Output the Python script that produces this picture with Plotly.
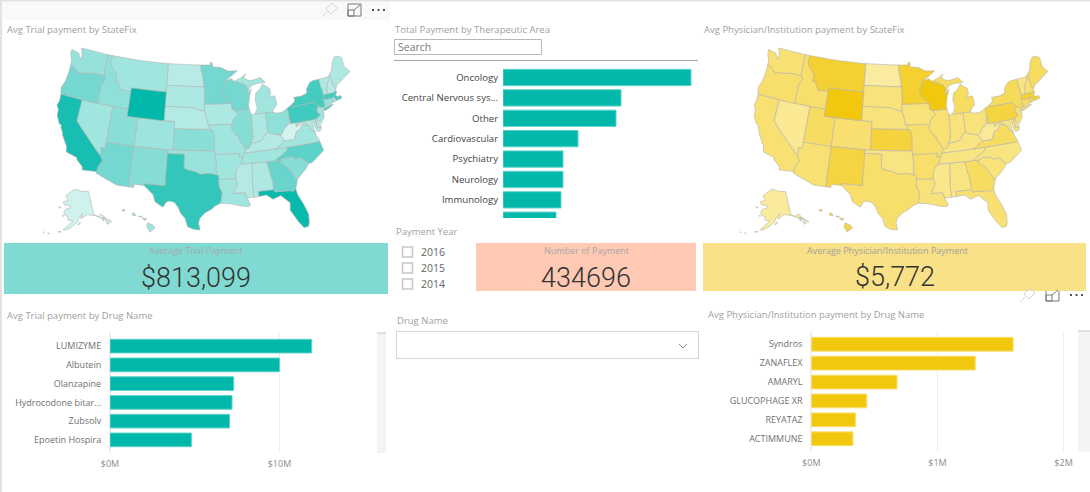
import math
import plotly.graph_objects as go

W, H = 1090, 492
TEAL, YELLOW = "#01B8AA", "#F2C80F"

# ---------- data ----------
states = ["AL","AK","AZ","AR","CA","CO","CT","DC","DE","FL","GA","HI","ID","IL","IN","IA","KS","KY","LA","ME","MD","MA","MI","MN","MS","MO","MT","NE","NV","NH","NJ","NM","NY","NC","ND","OH","OK","OR","PA","RI","SC","SD","TN","TX","UT","VT","VA","WA","WV","WI","WY"]
trial_index = [.25,.10,.50,.30,.90,.32,.35,.20,.20,.97,.55,.30,.38,.42,.25,.25,.40,.22,.30,.25,.25,.70,.30,.50,.22,.30,.30,.22,.30,.20,.30,.42,.70,.60,.20,.38,.33,.50,.72,.30,.42,.25,.30,.78,.40,.25,.30,.35,.08,.50,1.0]
phys_index = [.30,.15,.40,.45,.40,.42,.50,.10,.30,.40,.50,.65,.45,.40,.35,.35,.72,.30,.35,.50,.30,.80,.50,.80,.25,.45,.78,.35,.20,.40,.45,.70,.55,.30,.12,.35,.30,.45,.70,.50,.35,.35,.30,.45,.50,.30,.50,.40,.18,1.0,1.0]

area_names = ["Oncology","Central Nervous sys...","Other","Cardiovascular","Psychiatry","Neurology","Immunology","Pulmonary"]
area_totals = [188,118,113,75,60,60,58,53]

trial_drugs = ["LUMIZYME","Albutein","Olanzapine","Hydrocodone bitar...","Zubsolv","Epoetin Hospira"]
trial_drug_pay = [11.9,10.0,7.3,7.2,7.05,4.8]
phys_drugs = ["Syndros","ZANAFLEX","AMARYL","GLUCOPHAGE XR","REYATAZ","ACTIMMUNE"]
phys_drug_pay = [1.60,1.30,0.68,0.44,0.35,0.33]
years = ["2016","2015","2014"]

# State outlines (lon, lat), simplified: each state is a list of rings
state_rings = {
"WA":[[[-124.7,48.4],[-123.1,48.2],[-122.4,47.4],[-122.3,48.1],[-122.8,49],[-117.03,49],[-117.04,46.42],[-116.92,45.99],[-118.98,46],[-119.6,45.92],[-121.2,45.65],[-122.3,45.55],[-122.8,45.9],[-123.4,46.2],[-124,46.25],[-124.1,46.9],[-124.7,47.9]]],
"OR":[[[-124,46.25],[-123.4,46.2],[-122.8,45.9],[-122.3,45.55],[-121.2,45.65],[-119.6,45.92],[-118.98,46],[-116.92,45.99],[-116.47,45.6],[-116.85,44.9],[-117.2,44.4],[-117.03,44.2],[-117.03,42],[-120,42],[-124.21,42],[-124.55,42.84],[-124.1,43.9],[-123.95,45.2]]],
"CA":[[[-124.21,42],[-120,42],[-120,39],[-114.63,35],[-114.13,34.27],[-114.72,33.4],[-114.72,32.72],[-117.12,32.53],[-117.3,33],[-118.4,33.75],[-118.5,34.03],[-119.2,34.15],[-120.5,34.45],[-120.65,35.15],[-121.9,36.6],[-122,36.95],[-122.5,37.5],[-122.5,37.8],[-123,38],[-123.75,39],[-123.85,39.85],[-124.35,40.4],[-124.1,41]]],
"NV":[[[-120,42],[-117.03,42],[-114.04,42],[-114.04,37],[-114.04,36.2],[-114.74,36.1],[-114.63,35],[-120,39]]],
"ID":[[[-117.03,49],[-116.05,49],[-116.05,48],[-115.7,47.45],[-114.7,46.7],[-114.35,46.65],[-114.5,45.55],[-113.9,45.65],[-113.45,44.95],[-113,44.45],[-111.5,44.55],[-111.05,44.48],[-111.05,42],[-114.04,42],[-117.03,42],[-117.03,44.2],[-117.2,44.4],[-116.85,44.9],[-116.47,45.6],[-116.92,45.99],[-117.04,46.42]]],
"MT":[[[-116.05,49],[-104.05,49],[-104.05,45.94],[-104.05,45],[-111.05,45],[-111.05,44.48],[-111.5,44.55],[-113,44.45],[-113.45,44.95],[-113.9,45.65],[-114.5,45.55],[-114.35,46.65],[-114.7,46.7],[-115.7,47.45],[-116.05,48]]],
"WY":[[[-111.05,45],[-104.05,45],[-104.05,43],[-104.05,41],[-109.05,41],[-111.05,41],[-111.05,42],[-111.05,44.48]]],
"UT":[[[-114.04,42],[-111.05,42],[-111.05,41],[-109.05,41],[-109.05,37],[-114.04,37]]],
"CO":[[[-109.05,41],[-104.05,41],[-102.05,41],[-102.05,40],[-102.05,37],[-103,37],[-109.05,37]]],
"AZ":[[[-114.04,37],[-109.05,37],[-109.05,31.33],[-111.07,31.33],[-114.81,32.5],[-114.72,32.72],[-114.72,33.4],[-114.13,34.27],[-114.63,35],[-114.74,36.1],[-114.04,36.2]]],
"NM":[[[-109.05,37],[-103,37],[-103,36.5],[-103.04,32],[-106.62,32],[-106.53,31.78],[-108.21,31.78],[-108.21,31.33],[-109.05,31.33]]],
"ND":[[[-104.05,49],[-97.23,49],[-97.1,48],[-96.85,47.5],[-96.56,45.94],[-104.05,45.94]]],
"SD":[[[-104.05,45.94],[-96.56,45.94],[-96.45,45.3],[-96.45,43.5],[-96.45,42.5],[-97.9,42.8],[-98.5,43],[-104.05,43],[-104.05,45]]],
"NE":[[[-104.05,43],[-98.5,43],[-97.9,42.8],[-96.45,42.5],[-96.1,41.7],[-95.9,41],[-95.77,40.58],[-95.31,40],[-102.05,40],[-102.05,41],[-104.05,41]]],
"KS":[[[-102.05,40],[-95.31,40],[-94.9,39.8],[-94.61,39.1],[-94.62,37],[-102.05,37]]],
"OK":[[[-103,37],[-94.62,37],[-94.62,36.5],[-94.43,35.4],[-94.48,33.64],[-95.5,33.88],[-97.1,33.75],[-98.1,34.13],[-99.2,34.3],[-100,34.56],[-100,36.5],[-103,36.5]]],
"TX":[[[-106.62,32],[-103.04,32],[-103,36.5],[-100,36.5],[-100,34.56],[-99.2,34.3],[-98.1,34.13],[-97.1,33.75],[-95.5,33.88],[-94.48,33.64],[-94.04,33.55],[-94.04,33],[-94.04,32],[-93.55,31.2],[-93.85,29.7],[-94.7,29.35],[-95.3,28.9],[-96.4,28.35],[-97.2,27.6],[-97.4,26.9],[-97.15,25.96],[-98.2,26.05],[-99.1,26.4],[-99.5,27.5],[-100.3,28.3],[-100.7,29.1],[-101.4,29.77],[-102.3,29.88],[-102.7,29.7],[-103.15,28.98],[-104.5,29.65],[-104.9,30.6],[-106,31.4],[-106.53,31.78]]],
"MN":[[[-97.23,49],[-95.15,49],[-95.15,49.38],[-94.8,49.3],[-94.6,48.7],[-93,48.6],[-91.5,48.05],[-89.6,48],[-92,46.7],[-92.29,46.66],[-92.29,46.08],[-92.9,45.6],[-92.75,44.75],[-91.2,43.5],[-96.45,43.5],[-96.45,45.3],[-96.56,45.94],[-96.85,47.5],[-97.1,48]]],
"IA":[[[-96.45,43.5],[-91.2,43.5],[-91.1,42.7],[-90.65,42.5],[-90.15,41.95],[-91.05,41.2],[-91.42,40.38],[-91.73,40.61],[-95.77,40.58],[-95.9,41],[-96.1,41.7],[-96.45,42.5]]],
"MO":[[[-95.77,40.58],[-91.73,40.61],[-91.42,40.38],[-91.5,40],[-90.7,39],[-90.2,38.8],[-90.2,38.4],[-89.55,37.7],[-89.15,37],[-89.4,36.5],[-89.7,36],[-90.37,36],[-90.15,36.5],[-94.62,36.5],[-94.62,37],[-94.61,39.1],[-94.9,39.8],[-95.31,40]]],
"AR":[[[-94.62,36.5],[-90.15,36.5],[-90.37,36],[-89.7,36],[-90.1,35],[-90.6,34.7],[-91.1,33.9],[-91.17,33],[-94.04,33],[-94.04,33.55],[-94.48,33.64],[-94.43,35.4]]],
"LA":[[[-94.04,33],[-91.17,33],[-90.9,32.3],[-91.6,31],[-89.73,31],[-89.5,30.2],[-89.4,30.05],[-89,29.2],[-89.4,29],[-90.2,29.1],[-91.3,29.3],[-92.2,29.55],[-93.85,29.7],[-93.55,31.2],[-94.04,32]]],
"WI":[[[-92.29,46.66],[-92,46.7],[-90.9,46.95],[-90.4,46.55],[-89.1,46.13],[-88.1,45.9],[-87.8,45.35],[-87.6,45.1],[-88,44.55],[-87.05,45.25],[-87.5,44.4],[-87.9,43],[-87.8,42.49],[-90.65,42.5],[-91.1,42.7],[-91.2,43.5],[-92.75,44.75],[-92.9,45.6],[-92.29,46.08]]],
"IL":[[[-90.65,42.5],[-87.8,42.49],[-87.53,41.72],[-87.53,39.35],[-87.65,38.5],[-88.05,37.8],[-88.1,37.5],[-88.5,37.1],[-89.15,37],[-89.55,37.7],[-90.2,38.4],[-90.2,38.8],[-90.7,39],[-91.5,40],[-91.42,40.38],[-91.05,41.2],[-90.15,41.95]]],
"IN":[[[-87.53,41.72],[-87.2,41.75],[-86.8,41.76],[-84.8,41.76],[-84.82,39.1],[-85.4,38.7],[-86,38],[-86.5,37.95],[-87.1,37.8],[-88.05,37.8],[-87.65,38.5],[-87.53,39.35]]],
"OH":[[[-84.8,41.76],[-83.45,41.73],[-82.7,41.5],[-81.7,41.5],[-80.52,41.98],[-80.52,40.64],[-80.85,39.7],[-81.75,39.2],[-82.2,38.6],[-82.6,38.42],[-83.3,38.6],[-84.2,38.8],[-84.82,39.1]]],
"MI":[[[-86.8,41.76],[-84.8,41.76],[-83.45,41.73],[-83.1,42.2],[-82.5,42.6],[-82.45,43],[-82.6,43.9],[-83.4,43.95],[-83.9,43.7],[-83.3,44.3],[-83.4,45.05],[-84.7,45.75],[-85.5,45],[-86.2,44.7],[-86.5,43.7],[-86.25,42.6]],
      [[-90.4,46.55],[-89.1,46.13],[-88.1,45.9],[-87.8,45.35],[-87.6,45.1],[-87,45.75],[-85.6,46],[-84.7,45.95],[-84.1,46],[-84.6,46.45],[-85,46.75],[-86.5,46.5],[-87.4,46.5],[-88.4,46.95],[-87.9,47.47],[-88.9,47]]],
"KY":[[[-89.4,36.5],[-89.15,37],[-88.5,37.1],[-88.1,37.5],[-88.05,37.8],[-87.1,37.8],[-86.5,37.95],[-86,38],[-85.4,38.7],[-84.82,39.1],[-84.2,38.8],[-83.3,38.6],[-82.6,38.42],[-81.97,37.54],[-83.68,36.6],[-88.07,36.5]]],
"TN":[[[-90.1,35],[-89.7,36],[-89.4,36.5],[-88.07,36.5],[-83.68,36.6],[-81.68,36.59],[-82,36.1],[-84.32,35],[-85.6,35],[-88.2,35]]],
"MS":[[[-90.1,35],[-88.2,35],[-88.47,31.9],[-88.4,30.25],[-89.5,30.2],[-89.73,31],[-91.6,31],[-90.9,32.3],[-91.17,33],[-91.1,33.9],[-90.6,34.7]]],
"AL":[[[-88.2,35],[-85.6,35],[-85.18,32.87],[-85,32.3],[-85.05,31],[-87.6,31],[-87.5,30.3],[-88,30.25],[-88.4,30.25],[-88.47,31.9]]],
"GA":[[[-85.6,35],[-84.32,35],[-83.1,35],[-83.35,34.7],[-82.75,34.3],[-81.9,33.5],[-81.1,32.1],[-80.85,32.03],[-81.4,30.7],[-82.05,30.36],[-82.2,30.57],[-84.86,30.7],[-85.05,31],[-85,32.3],[-85.18,32.87]]],
"FL":[[[-87.6,31],[-85.05,31],[-84.86,30.7],[-82.2,30.57],[-82.05,30.36],[-81.4,30.7],[-81.25,29.8],[-80.55,28.4],[-80.05,26.9],[-80.15,25.75],[-80.4,25.2],[-81.1,25.15],[-81.8,26.1],[-82.2,26.9],[-82.8,27.85],[-82.65,28.9],[-83.4,29.5],[-84,30.1],[-85.3,29.7],[-86.3,30.4],[-87.5,30.3]]],
"SC":[[[-83.1,35],[-82.35,35.2],[-81.05,35.15],[-80.8,34.82],[-79.67,34.8],[-78.55,33.86],[-79.2,33.2],[-80.85,32.03],[-81.1,32.1],[-81.9,33.5],[-82.75,34.3],[-83.35,34.7]]],
"NC":[[[-84.32,35],[-83.1,35],[-82.35,35.2],[-81.05,35.15],[-80.8,34.82],[-79.67,34.8],[-78.55,33.86],[-77.95,33.9],[-76.5,34.7],[-75.55,35.25],[-75.87,36.55],[-81.68,36.59],[-82,36.1]]],
"VA":[[[-83.68,36.6],[-81.68,36.59],[-75.87,36.55],[-76,37],[-76.3,37.5],[-76.3,38],[-77.05,38.4],[-77.05,38.85],[-77.5,39.1],[-77.72,39.32],[-77.83,39.13],[-78.35,39.4],[-78.87,38.76],[-79.65,38.55],[-80.3,37.5],[-81.97,37.54]]],
"WV":[[[-82.6,38.42],[-82.2,38.6],[-81.75,39.2],[-80.85,39.7],[-80.52,40.64],[-80.52,39.72],[-79.48,39.72],[-79.48,39.2],[-78.4,39.62],[-77.72,39.32],[-77.83,39.13],[-78.35,39.4],[-78.87,38.76],[-79.65,38.55],[-80.3,37.5],[-81.97,37.54]]],
"MD":[[[-79.48,39.72],[-75.79,39.72],[-75.7,38.46],[-75.05,38.45],[-75.25,38.03],[-75.9,37.95],[-76.2,38.8],[-76.05,39.4],[-76.45,39.1],[-76.45,38.4],[-76.3,38],[-77.05,38.4],[-77.05,38.85],[-77.5,39.1],[-77.72,39.32],[-78.4,39.62],[-79.48,39.2]]],
"DC":[[[-77.12,38.93],[-77.04,39],[-76.91,38.89],[-77.04,38.79]]],
"DE":[[[-75.79,39.72],[-75.42,39.8],[-75.55,39.45],[-75.1,38.8],[-75.05,38.45],[-75.7,38.46]]],
"PA":[[[-80.52,41.98],[-79.76,42.27],[-79.76,42],[-75.35,42],[-74.7,41.36],[-75.13,40.97],[-75.2,40.65],[-74.72,40.15],[-75.42,39.8],[-75.79,39.72],[-79.48,39.72],[-80.52,39.72],[-80.52,40.64]]],
"NY":[[[-79.76,42.27],[-79,42.7],[-78.9,43],[-79.05,43.27],[-77.5,43.25],[-76.3,43.5],[-76.2,44.1],[-75.3,44.85],[-74.7,45],[-73.35,45],[-73.4,44],[-73.25,43.6],[-73.27,42.75],[-73.5,42.05],[-73.49,41.2],[-73.65,41],[-73.9,41],[-74.7,41.36],[-75.35,42],[-79.76,42]],
      [[-74.03,40.6],[-73.75,40.87],[-72.3,41.15],[-71.87,41.07],[-73.5,40.58]]],
"NJ":[[[-75.13,40.97],[-74.7,41.36],[-73.9,41],[-74.25,40.5],[-74,40.45],[-74.1,39.75],[-74.9,38.93],[-75.5,39.5],[-75.42,39.8],[-74.72,40.15],[-75.2,40.65]]],
"CT":[[[-73.5,42.05],[-71.8,42.02],[-71.8,41.4],[-73.65,41],[-73.49,41.2]]],
"RI":[[[-71.8,42.02],[-71.38,42.02],[-71.15,41.5],[-71.8,41.4]]],
"MA":[[[-73.5,42.05],[-73.27,42.75],[-72.45,42.73],[-71.3,42.7],[-70.85,42.87],[-70.6,42.65],[-71.05,42.3],[-70.6,41.95],[-70.2,42.07],[-69.95,41.8],[-69.97,41.65],[-70.65,41.55],[-71.15,41.5],[-71.38,42.02],[-71.8,42.02]]],
"VT":[[[-73.35,45],[-71.5,45],[-71.5,44.6],[-72.05,44.1],[-72.45,43.2],[-72.45,42.73],[-73.27,42.75],[-73.25,43.6],[-73.4,44]]],
"NH":[[[-71.5,45],[-71.08,45.3],[-70.98,43.4],[-70.7,43.07],[-70.85,42.87],[-71.3,42.7],[-72.45,42.73],[-72.45,43.2],[-72.05,44.1],[-71.5,44.6]]],
"ME":[[[-71.08,45.3],[-70.4,45.8],[-70,46.7],[-69.2,47.45],[-68.3,47.35],[-67.8,47.07],[-67.8,45.7],[-67,44.85],[-68.5,44.3],[-69.1,44],[-70.2,43.6],[-70.7,43.07],[-70.98,43.4]]],
"AK":[[[-141,69.65],[-141,60.3],[-137.5,58.9],[-135.5,59.8],[-133.5,58.4],[-131.8,56.6],[-130,55.9],[-130.2,55],[-132,56.6],[-134.7,58.2],[-136.5,58.2],[-139.5,59.6],[-142.5,60],[-146,60.7],[-148.5,60],[-151.7,59.2],[-151.2,61],[-149.8,61.3],[-153.5,59.5],[-154.3,58.3],[-157,56.8],[-160.5,55.3],[-163,54.7],[-164.8,54.6],[-162.5,55.9],[-158,58.5],[-162,58.7],[-162,60],[-165.3,60.7],[-166,61.7],[-164.5,63],[-161,63.5],[-161,64.5],[-166.5,64.6],[-168,65.7],[-163,66.6],[-166.5,68.3],[-163,69.5],[-156.5,71.35],[-151,70.4],[-145,70]],
      [[-154.5,57.3],[-152.3,58],[-152.5,57.4],[-154,56.9]],[[-168,53.5],[-166,53.9],[-166.3,53.4]],[[-174.5,52.2],[-173,52.2],[-173,52]],[[-177.5,51.9],[-176.5,52],[-176.5,51.7]],
      [[-171.5,63.4],[-168.8,63.3],[-170,63]],[[-167,60.2],[-165.7,60.3],[-166.2,59.8]],[[-136,58],[-134.8,57.9],[-134.9,56.5],[-135.7,57.2]],[[-133.8,56],[-132,55.9],[-131.9,55],[-133.3,55]],[[-134.6,58],[-133.9,57.8],[-134.2,56.9]],[[-133.3,57],[-132.6,56.8],[-133,56.3]]],
"HI":[[[-155.9,20.25],[-155.1,19.9],[-154.8,19.5],[-155.6,18.95],[-156.05,19.7]],[[-156.7,20.95],[-156,20.8],[-156.4,20.58]],[[-158.25,21.55],[-157.95,21.7],[-157.65,21.3],[-158.1,21.3]],[[-159.75,22.1],[-159.4,22.2],[-159.3,21.95],[-159.6,21.9]],[[-157.3,21.2],[-156.7,21.15],[-157,21.05]]],
}

# ---------- composite Albers projection (lower 48 + Alaska + Hawaii insets) ----------
def albers(lon, lat, lon0, lat0, p1, p2):
    r = math.radians
    n = (math.sin(r(p1)) + math.sin(r(p2))) / 2
    c = math.cos(r(p1)) ** 2 + 2 * n * math.sin(r(p1))
    rho = lambda la: math.sqrt(max(c - 2 * n * math.sin(r(la)), 0)) / n
    th = n * r(lon - lon0)
    return rho(lat) * math.sin(th), rho(lat0) - rho(lat) * math.cos(th)

def project(state, lon, lat):
    if state == "AK":
        x, y = albers(lon, lat, -156, 58.5, 55, 65)
        return 0.35 * x - 0.315, 0.35 * y - 0.201
    if state == "HI":
        x, y = albers(lon, lat, -160, 19.9, 8, 18)
        return x - 0.205, y - 0.212
    return albers(lon, lat, -96.6, 38.7, 29.5, 45.5)

def outline(state):
    xs, ys = [], []
    for ring in state_rings[state]:
        closed = ring + ring[:1]
        for a, b in zip(closed, closed[1:]):
            steps = max(1, int(max(abs(a[0] - b[0]), abs(a[1] - b[1]))))
            for i in range(steps):
                u, v = project(state, a[0] + (b[0] - a[0]) * i / steps, a[1] + (b[1] - a[1]) * i / steps)
                xs.append(u); ys.append(v)
        u, v = project(state, *ring[0])
        xs += [u, None]; ys += [v, None]
    return xs, ys

outlines = {s: outline(s) for s in states}

def blend(low, high, t):
    a = [int(low[i:i + 2], 16) for i in (1, 3, 5)]
    b = [int(high[i:i + 2], 16) for i in (1, 3, 5)]
    return "rgb(%d,%d,%d)" % tuple(round(u + (v - u) * t) for u, v in zip(a, b))

# ---------- helpers ----------
def px(x): return x / W
def py(y): return 1 - y / H
GREY = "#A0A0A0"
TXT = "Open Sans"
annotations, shapes = [], []

def text(x, y, s, size=9.5, color=GREY, anchor="left", font=TXT, weight=None):
    f = dict(family=font, size=size, color=color)
    if weight:
        f["weight"] = weight
    annotations.append(dict(x=px(x), y=py(y), xref="paper", yref="paper", text=s, showarrow=False,
                            xanchor=anchor, yanchor="middle", align=anchor, font=f))

def rect(x0, y0, x1, y1, fill="rgba(0,0,0,0)", line=None, lw=1, layer="below"):
    shapes.append(dict(type="rect", xref="paper", yref="paper", x0=px(x0), x1=px(x1), y0=py(y0), y1=py(y1),
                       fillcolor=fill, line=dict(color=line or "rgba(0,0,0,0)", width=lw if line else 0), layer=layer))

def seg(x0, y0, x1, y1, color, lw=1):
    shapes.append(dict(type="line", xref="paper", yref="paper", x0=px(x0), x1=px(x1), y0=py(y0), y1=py(y1),
                       line=dict(color=color, width=lw)))

def icons(xp, yc):
    pin = "#D4D4D4"
    seg(xp-5, yc+7, xp, yc+2, pin)
    for a, b in (((-1, -1), (5, -7)), ((5, -7), (10, -2)), ((10, -2), (4, 4)), ((4, 4), (-1, -1))):
        seg(xp+a[0], yc+a[1], xp+b[0], yc+b[1], pin)
    rect(xp+21, yc-6, xp+34, yc+6, line="#777777")
    rect(xp+21, yc+0, xp+27, yc+6, line="#777777")
    seg(xp+27, yc, xp+33, yc-5, "#777777")
    for dx in (45, 50.5, 56):
        rect(xp+dx, yc-1, xp+dx+2, yc+1, fill="#555555", layer="above")

fig = go.Figure()

# ---------- maps ----------
def add_map(values, xa, ya, low, high):
    for s, v in zip(states, values):
        xs, ys = outlines[s]
        fig.add_trace(go.Scatter(x=xs, y=ys, xaxis=xa, yaxis=ya, mode="lines", fill="toself", name=s,
                                 fillcolor=blend(low, high, v), hoverinfo="name",
                                 line=dict(color="#B4B4B0", width=0.6)))
add_map(trial_index, "x4", "y4", "#E6F8F6", TEAL)
add_map(phys_index, "x5", "y5", "#FCF0B4", YELLOW)

main = [s for s in states if s not in ("AK", "HI")]
all_x = [v for s in main for v in outlines[s][0] if v is not None]
all_y = [v for s in main for v in outlines[s][1] if v is not None]
xmin, xmax, ymin, ymax = min(all_x), max(all_x), min(all_y), max(all_y)
def map_axes(box, left, right, top, bottom):
    sx = (right - left) / (xmax - xmin)
    sy = (bottom - top) / (ymax - ymin)
    xa = dict(domain=[px(box[0]), px(box[2])], visible=False, fixedrange=True,
              range=[xmin - (left - box[0]) / sx, xmax + (box[2] - right) / sx])
    ya = dict(domain=[py(box[3]), py(box[1])], visible=False, fixedrange=True,
              range=[ymin - (box[3] - bottom) / sy, ymax + (top - box[1]) / sy])
    return xa, ya
xa4, ya4 = map_axes((20, 36, 375, 240), 57, 350, 48, 230)
xa5, ya5 = map_axes((717, 36, 1072, 240), 754, 1048, 48, 230)
xa4["anchor"], ya4["anchor"], xa5["anchor"], ya5["anchor"] = "y4", "x4", "y5", "x5"

# ---------- bars ----------
def bars(names, vals, xa, ya, color, edge, width):
    fig.add_trace(go.Bar(y=names, x=vals, orientation="h", xaxis=xa, yaxis=ya, width=width,
                         marker=dict(color=color, line=dict(color=edge, width=1))))

bars(area_names, area_totals, "x", "y", TEAL, "#5FD3CA", 0.8)
bars(trial_drugs, trial_drug_pay, "x2", "y2", TEAL, "#5FD3CA", 0.73)
bars(phys_drugs, phys_drug_pay, "x3", "y3", YELLOW, "#F8DF70", 0.73)

axfont = dict(family=TXT, size=9.6, color="#444444")
drugfont = dict(family=TXT, size=9, color="#707070")
def yax(cats, top, bot, anchor, rng, font, tl):
    return dict(domain=[py(bot), py(top)], categoryorder="array", categoryarray=cats, range=rng,
                anchor=anchor, showgrid=False, zeroline=False, showline=False, ticks="outside",
                ticklen=tl, tickcolor="rgba(0,0,0,0)", tickfont=font)
xtick = dict(showgrid=True, gridcolor="#EFEFEF", zeroline=True, zerolinecolor="#EFEFEF", showline=False,
             ticks="outside", ticklen=2, tickcolor="rgba(0,0,0,0)",
             tickfont=dict(family=TXT, size=9, color="#8C8C8C"))

layout_axes = dict(
    xaxis=dict(domain=[px(503), px(697)], range=[0, 194], visible=False, anchor="y"),
    yaxis=yax(area_names, 68, 218, "x", [6.89, -0.466], axfont, 2),
    xaxis2=dict(domain=[px(110), px(372)], range=[0, 15.46], anchor="y2", tickvals=[0, 10], ticktext=["$0M", "$10M"], **xtick),
    yaxis2=yax(trial_drugs, 333, 453, "x2", [5.7, -0.7], drugfont, 6),
    xaxis3=dict(domain=[px(811.3), px(1072)], range=[0, 2.067], anchor="y3", tickvals=[0, 1, 2], ticktext=["$0M", "$1M", "$2M"], **xtick),
    yaxis3=yax(phys_drugs, 331, 452, "x3", [5.7, -0.7], drugfont, 6),
    xaxis4=xa4, yaxis4=ya4, xaxis5=xa5, yaxis5=ya5,
)

# ---------- chrome ----------
rect(0, 0, 1090, 1.5, fill="#E2E2E2")
rect(0, 0, 2, 492, fill="#E2E2E2")
rect(2, 2, 390, 20, fill="#F9F9F9")
icons(327, 10)
icons(1025, 295)

text(4.5, 29, "Avg Trial payment by StateFix")
text(392.5, 29, "Total Payment by Therapeutic Area")
text(701.5, 29, "Avg Physician/Institution payment by StateFix")
text(4.5, 315.5, "Avg Trial payment by Drug Name")
text(705.5, 314, "Avg Physician/Institution payment by Drug Name")
text(393.5, 231.5, "Payment Year")
text(394.5, 320.5, "Drug Name")

rect(4, 243, 388, 294, fill="#80DAD2")
rect(476, 243, 696, 291, fill="#FFC9B3")
rect(703, 243, 1086, 291, fill="#F8E187")
text(196, 250, "Average Trial Payment", size=9, color="#A8A8A8", anchor="center")
text(586, 250, "Number of Payment", size=9, color="#A8A8A8", anchor="center")
text(887, 250, "Average Physician/Institution Payment", size=9, color="#A0A0A0", anchor="center")
kfont = "Roboto"
text(196, 278, "$813,099", size=27, color="#333333", anchor="center", font=kfont, weight=300)
text(586, 278, "434696", size=27, color="#333333", anchor="center", font=kfont, weight=300)
text(895, 277, "$5,772", size=27, color="#333333", anchor="center", font=kfont, weight=300)

rect(394.5, 39.5, 541.5, 54.5, line="#B8B8B8", lw=1)
text(396, 47, "Search", size=10.5, color="#777777")
seg(394, 60.5, 698, 60.5, "#A8A8A8")

for yr, yc in zip(years, (252, 268, 284)):
    rect(402.5, yc-5, 412.5, yc+5, fill="#FFFFFF", line="#C8C8C8", lw=1.5)
    text(418.5, yc, yr, size=10.5, color="#666666")

rect(396.5, 331.5, 698.5, 358.5, line="#D4D4D4", lw=1)
seg(679, 344, 683, 348, "#888888"); seg(683, 348, 687, 344, "#888888")

rect(377, 333, 386, 453, fill="#F4F4F4")
rect(1078, 331, 1090, 452, fill="#F4F4F4")
seg(377, 333, 386, 333, "#C4C4C4")
seg(1078, 331, 1090, 331, "#C4C4C4")

fig.update_layout(width=W, height=H, autosize=False, margin=dict(l=0, r=0, t=0, b=0, autoexpand=False),
                  paper_bgcolor="white", plot_bgcolor="rgba(0,0,0,0)", showlegend=False, barmode="overlay",
                  annotations=annotations, shapes=shapes, **layout_axes)
fig.write_html("out.html", config=dict(displayModeBar=False),
               post_script="document.body.style.margin='0';")
